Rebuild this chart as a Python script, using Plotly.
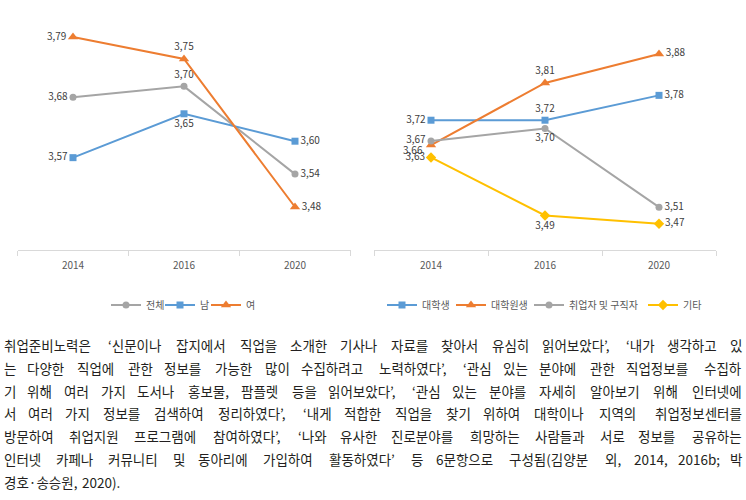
import plotly.graph_objects as go

W, H = 746, 500


def px(X):
    return X / W


def py(Y):
    return 1 - Y / H


# ---------------- data ----------------
years = ['2014', '2016', '2020']

left_names = ['전체', '남', '여']
total = [3.68, 3.70, 3.54]
male = [3.57, 3.65, 3.60]
female = [3.79, 3.75, 3.48]

right_names = ['대학생', '대학원생', '취업자 및 구직자', '기타']
college = [3.72, 3.72, 3.78]
grad = [3.66, 3.81, 3.88]
jobseek = [3.67, 3.70, 3.51]
other = [3.63, 3.49, 3.47]

para_lines = [
    "취업준비노력은 ‘신문이나 잡지에서 직업을 소개한 기사나 자료를 찾아서 유심히 읽어보았다’, ‘내가 생각하고 있",
    "는 다양한 직업에 관한 정보를 가능한 많이 수집하려고 노력하였다’, ‘관심 있는 분야에 관한 직업정보를 수집하",
    "기 위해 여러 가지 도서나 홍보물, 팜플렛 등을 읽어보았다’, ‘관심 있는 분야를 자세히 알아보기 위해 인터넷에",
    "서 여러 가지 정보를 검색하여 정리하였다’, ‘내게 적합한 직업을 찾기 위하여 대학이나 지역의 취업정보센터를",
    "방문하여 취업지원 프로그램에 참여하였다’, ‘나와 유사한 진로분야를 희망하는 사람들과 서로 정보를 공유하는",
    "인터넷 카페나 커뮤니티 및 동아리에 가입하여 활동하였다’ 등 6문항으로 구성됨(김양분 외, 2014, 2016b; 박",
    "경호·송승원, 2020).",
]

# ---------------- styles ----------------
BLUE, ORANGE, GRAY, YELLOW = '#5B9BD5', '#ED7D31', '#A5A5A5', '#FFC000'
FONT = 'Noto Sans CJK KR'
LABEL_FONT = dict(family=FONT, size=10, color='#404040')


def fmt(vals):
    return [f"{v:.2f}".replace('.', ',') for v in vals]


fig = go.Figure()


def add(name, vals, color, symbol, msize, pos, xa, ya, legend, hide_first=False):
    labels = fmt(vals)
    if hide_first:
        labels = [''] + labels[1:]
    fig.add_trace(go.Scatter(
        x=years, y=vals, name=name, mode='lines+markers+text',
        line=dict(color=color, width=2),
        marker=dict(color=color, symbol=symbol, size=msize),
        text=labels, textposition=pos, textfont=LABEL_FONT,
        xaxis=xa, yaxis=ya, legend=legend, cliponaxis=False,
    ))


L, T, B, R = 'middle left', 'top center', 'bottom center', 'middle right'

add(left_names[0], total, GRAY, 'circle', 7, [L, T, R], 'x', 'y', 'legend')
add(left_names[1], male, BLUE, 'square', 7, [L, B, R], 'x', 'y', 'legend2')
add(left_names[2], female, ORANGE, 'triangle-up', 9, [L, T, R], 'x', 'y', 'legend3')

add(right_names[0], college, BLUE, 'square', 7, [L, T, R], 'x2', 'y2', 'legend4')
add(right_names[1], grad, ORANGE, 'triangle-up', 9, [L, T, R], 'x2', 'y2', 'legend5',
    hide_first=True)
add(right_names[2], jobseek, GRAY, 'circle', 7, [L, B, R], 'x2', 'y2', 'legend6')
add(right_names[3], other, YELLOW, 'diamond', 8, [L, B, R], 'x2', 'y2', 'legend7')

# the 2014 label of 대학원생 is nudged down so it does not collide with 3,67
# (annotations on a category axis take the category's index)
fig.add_annotation(x=years.index('2014'), y=grad[0], xref='x2', yref='y2',
                   text=fmt(grad)[0], showarrow=False, xanchor='right', yanchor='middle',
                   xshift=-7, yshift=-4, borderpad=0, font=LABEL_FONT)

xcommon = dict(type='category', range=[-0.5, 2.5], tickson='boundaries', ticks='outside',
               ticklen=5, tickcolor='#D9D9D9', showline=True, linecolor='#D9D9D9',
               linewidth=1, showgrid=False, zeroline=False, fixedrange=True,
               ticklabelstandoff=6,
               tickfont=dict(family=FONT, size=10, color='#595959'))
ycommon = dict(visible=False, showgrid=False, zeroline=False, fixedrange=True)

# vertical: axis line at 250px, plot top at 8px
ybot, ytop = py(250), py(8)
fig.update_layout(
    width=W, height=H, margin=dict(l=0, r=0, t=0, b=0),
    paper_bgcolor='white', plot_bgcolor='white',
    xaxis=dict(domain=[px(17.5), px(350.5)], anchor='y', **xcommon),
    yaxis=dict(domain=[ybot, ytop], range=[3.4016, 3.79 + 29 / 548.4], anchor='x', **ycommon),
    xaxis2=dict(domain=[px(374), px(716)], anchor='y2', **xcommon),
    yaxis2=dict(domain=[ybot, ytop], range=[3.4066, 3.88 + 46 / 414.6], anchor='x2', **ycommon),
    showlegend=True,
)

# one legend per entry, positioned like the original
leg_text_x = [145, 199, 245, 421, 490, 568, 682]
leg_names = ['legend', 'legend2', 'legend3', 'legend4', 'legend5', 'legend6', 'legend7']
for nm, tx in zip(leg_names, leg_text_x):
    fig.update_layout(**{nm: dict(
        x=px(tx - 39), xanchor='left', y=py(305), yanchor='middle',
        orientation='h', bgcolor='rgba(0,0,0,0)', borderwidth=0,
        font=dict(family=FONT, size=10, color='#595959'))})


# ---------------- justified paragraph ----------------
PFS = 13.5
X0, X1 = 3, 743


def cw(ch):
    if '\uac00' <= ch <= '\ud7a3':
        return 1.0
    if ch.isdigit():
        return 0.555
    if ch in '‘’,.;·':
        return 0.25
    if ch in '()':
        return 0.33
    return 0.55


def wwidth(w):
    return sum(cw(c) for c in w) * PFS


for i, line in enumerate(para_lines):
    yc = 345 + i * 22.8
    words = line.split(' ')
    widths = [wwidth(w) for w in words]
    last = i == len(para_lines) - 1
    if last:
        gap = 0.28 * PFS
    else:
        gap = (X1 - X0 - sum(widths)) / (len(words) - 1)
    x = X0
    for j, (w, ww) in enumerate(zip(words, widths)):
        right = (not last) and j == len(words) - 1
        fig.add_annotation(x=px(X1 if right else x), y=py(yc), xref='paper', yref='paper',
                           text=w, showarrow=False, xanchor='right' if right else 'left',
                           yanchor='middle', borderpad=0,
                           font=dict(family=FONT, size=PFS, color='#231F20'))
        x += ww + gap

fig.write_html("out.html", config={'displayModeBar': False},
               post_script="document.body.style.margin='0px';")
